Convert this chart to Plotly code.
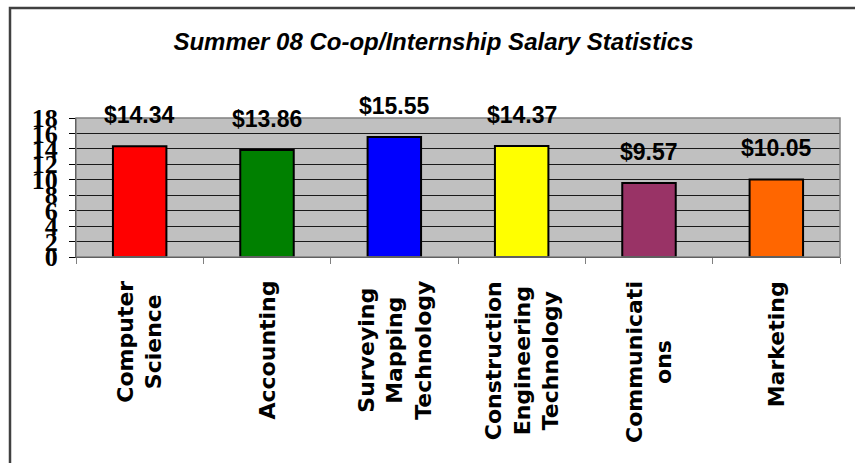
import plotly.graph_objects as go

categories = ["Computer<br>Science", "Accounting", "Surveying<br>Mapping<br>Technology",
              "Construction<br>Engineering<br>Technology", "Communicati<br>ons", "Marketing"]
salaries = [14.34, 13.86, 15.55, 14.37, 9.57, 10.05]
bar_colors = ["#FF0000", "#008000", "#0000FF", "#FFFF00", "#993366", "#FF6600"]
title_text = "Summer 08 Co-op/Internship Salary Statistics"

fig = go.Figure()
fig.add_trace(go.Bar(
    x=categories, y=salaries,
    marker=dict(color=bar_colors, line=dict(color="#000000", width=2)),
    hoverinfo="skip",
))

annotations = []
for c, v in zip(categories, salaries):
    annotations.append(dict(
        x=c, y=v, xref="x", yref="y", text=f"${v:.2f}", showarrow=False,
        yanchor="middle", yshift=31,
        font=dict(family="Liberation Sans, Arial", size=23, color="#000000", weight="bold"),
    ))
    annotations.append(dict(
        x=c, y=0, xref="x", yref="paper", text=c, showarrow=False,
        textangle=-90, yanchor="top", xanchor="center", yshift=-22, align="center",
        font=dict(family="DejaVu Sans", size=22, color="#000000", weight="bold"),
    ))

fig.update_layout(
    width=855, height=463,
    margin=dict(l=76, r=15, t=118, b=206),
    paper_bgcolor="#FFFFFF",
    plot_bgcolor="#C0C0C0",
    bargap=0.58,
    showlegend=False,
    annotations=annotations,
    title=dict(
        text=title_text, x=0.507, xanchor="center", y=1 - 42 / 463, yanchor="middle",
        font=dict(family="Liberation Sans, Arial", size=24, color="#000000",
                  weight="bold", style="italic"),
    ),
    xaxis=dict(
        showticklabels=False, ticks="outside", ticklen=6, tickcolor="#808080",
        tickson="boundaries", showline=True, linecolor="#000000", linewidth=1,
        showgrid=False, mirror=False,
    ),
    yaxis=dict(
        range=[0, 18], tickmode="linear", tick0=0, dtick=2,
        ticks="outside", ticklen=6, tickcolor="#000000",
        ticklabelstandoff=6,
        showline=True, linecolor="#000000", linewidth=1,
        showgrid=True, gridcolor="#1a1a1a", gridwidth=1,
        zeroline=False,
        tickfont=dict(family="Liberation Serif, Times New Roman", size=26,
                      color="#000000", weight="bold"),
    ),
    shapes=[
        dict(type="rect", xref="paper", yref="paper", x0=0, x1=1, y0=0, y1=1,
             line=dict(color="#808080", width=1.5), fillcolor="rgba(0,0,0,0)", layer="above"),
        dict(type="rect", xref="paper", yref="paper",
             x0=(10 - 76) / 764, x1=1.2, y0=-3, y1=(257 - 8) / 139,
             line=dict(color="#404040", width=2.5), fillcolor="rgba(0,0,0,0)"),
    ],
)

fig.write_html("out.html")
